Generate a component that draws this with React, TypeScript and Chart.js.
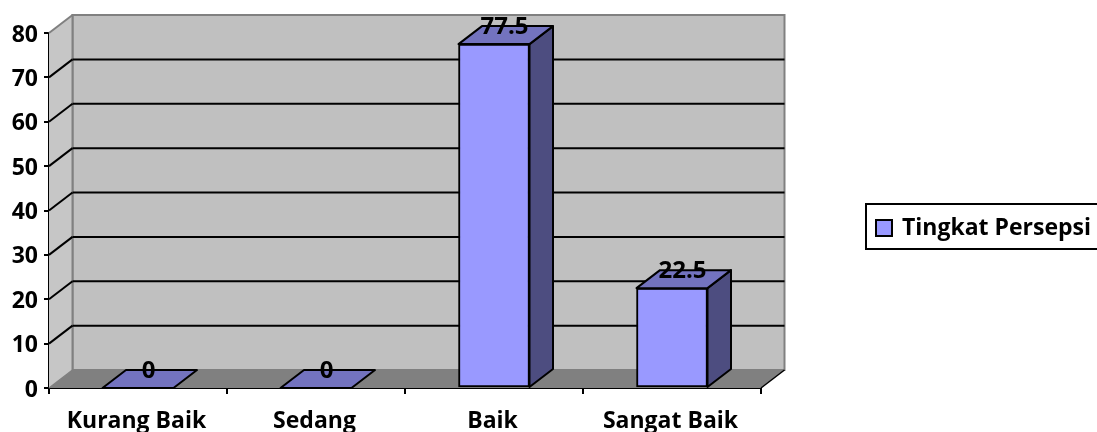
import React, { useEffect, useRef } from "react";
import { Chart, registerables } from "chart.js";

Chart.register(...registerables);

const categories = ["Kurang Baik", "Sedang", "Baik", "Sangat Baik"];
const seriesName = "Tingkat Persepsi";
const values = [0, 0, 77.5, 22.5];
const valueLabels = ["0", "0", "77.5", "22.5"];

const FONT = "'Open Sans', sans-serif";
const DX = 23.5;
const DY = -18;

function poly(ctx: CanvasRenderingContext2D, pts: number[][], fill: string | null, stroke: string | null, lw = 2) {
  ctx.beginPath();
  pts.forEach((p, i) => (i ? ctx.lineTo(p[0], p[1]) : ctx.moveTo(p[0], p[1])));
  ctx.closePath();
  if (fill) { ctx.fillStyle = fill; ctx.fill(); }
  if (stroke) { ctx.strokeStyle = stroke; ctx.lineWidth = lw; ctx.stroke(); }
}

function line(ctx: CanvasRenderingContext2D, x1: number, y1: number, x2: number, y2: number, c: string, lw = 2) {
  ctx.beginPath();
  ctx.moveTo(x1, y1);
  ctx.lineTo(x2, y2);
  ctx.strokeStyle = c;
  ctx.lineWidth = lw;
  ctx.stroke();
}

const walls = {
  id: "walls",
  beforeDatasetsDraw(chart: any) {
    const { ctx, chartArea: a, scales } = chart;
    const l = a.left, r = a.right, t = a.top, b = a.bottom;
    ctx.save();
    poly(ctx, [[l + DX, t + DY], [r + DX, t + DY], [r + DX, b + DY], [l + DX, b + DY]], "#C0C0C0", "#808080");
    poly(ctx, [[l, t], [l + DX, t + DY], [l + DX, b + DY], [l, b]], "#C6C6C6", null);
    poly(ctx, [[l, b], [r, b], [r + DX, b + DY], [l + DX, b + DY]], "#808080", null);
    line(ctx, l, t, l + DX, t + DY, "#808080");
    line(ctx, l + DX, t + DY, l + DX, b + DY, "#808080");
    line(ctx, r, b, r + DX, b + DY, "#000000", 1.5);
    line(ctx, l, b, l + DX, b + DY, "#808080", 1.5);
    scales.y.ticks.forEach((tk: any) => {
      const y = scales.y.getPixelForValue(tk.value);
      if (tk.value > 0 && tk.value < 80) {
        line(ctx, l, y, l + DX, y + DY, "#000000");
        line(ctx, l + DX, y + DY, r + DX, y + DY, "#000000");
      }
    });
    ctx.restore();
  },
};

const bars3d = {
  id: "bars3d",
  afterDatasetsDraw(chart: any) {
    const { ctx } = chart;
    const meta = chart.getDatasetMeta(0);
    ctx.save();
    meta.data.forEach((el: any) => {
      const half = el.width / 2;
      const x0 = el.x - half, x1 = el.x + half, top = el.y, base = el.base;
      ctx.lineJoin = "round";
      if (base - top > 0.5) {
        poly(ctx, [[x1, top], [x1 + DX, top + DY], [x1 + DX, base + DY], [x1, base]], "#4D4D80", "#000000");
      }
      poly(ctx, [[x0, top], [x1, top], [x1 + DX, top + DY], [x0 + DX, top + DY]], "#7373BF", "#000000");
    });
    meta.data.forEach((el: any, i: number) => {
      ctx.fillStyle = "#000000";
      ctx.font = `bold 24px ${FONT}`;
      ctx.textAlign = "center";
      ctx.textBaseline = "middle";
      ctx.fillText(valueLabels[i], el.x + 10.5, el.y - 17);
    });
    ctx.restore();
  },
};

const legendBox = {
  id: "legendBox",
  afterDraw(chart: any) {
    const { ctx } = chart;
    ctx.save();
    ctx.fillStyle = "#FFFFFF";
    ctx.strokeStyle = "#000000";
    ctx.lineWidth = 2;
    ctx.beginPath();
    ctx.moveTo(1097, 204);
    ctx.lineTo(866, 204);
    ctx.lineTo(866, 249);
    ctx.lineTo(1097, 249);
    ctx.fill();
    ctx.stroke();
    ctx.fillStyle = "#9999FF";
    ctx.fillRect(876, 220, 16, 16);
    ctx.strokeRect(876, 220, 16, 16);
    ctx.fillStyle = "#000000";
    ctx.font = `bold 23px ${FONT}`;
    ctx.textAlign = "left";
    ctx.textBaseline = "middle";
    ctx.fillText(chart.data.datasets[0].label, 902, 228);
    ctx.restore();
  },
};

export default function App() {
  const ref = useRef<HTMLCanvasElement>(null);
  useEffect(() => {
    const chart = new Chart(ref.current!, {
      type: "bar",
      data: {
        labels: categories,
        datasets: [
          {
            label: seriesName,
            data: values,
            backgroundColor: "#9999FF",
            borderColor: "#000000",
            borderWidth: 2,
            borderSkipped: false,
            barThickness: 71,
          },
        ],
      },
      options: {
        responsive: false,
        animation: false,
        devicePixelRatio: 1,
        layout: { padding: { top: 33, right: 336, left: 0, bottom: 0 } },
        plugins: { legend: { display: false }, tooltip: { enabled: false } },
        scales: {
          x: {
            afterFit: (s: any) => { s.height = 44; },
            grid: { drawOnChartArea: false, color: "#000000", lineWidth: 2, tickLength: 6, offset: true },
            border: { color: "#000000", width: 2 },
            ticks: { color: "#000000", font: { family: FONT, weight: "bold", size: 23 }, padding: 14, maxRotation: 0, labelOffset: -1.5 },
          },
          y: {
            min: 0,
            max: 80,
            afterFit: (s: any) => { s.width = 49; },
            grid: { drawOnChartArea: false, color: "#000000", lineWidth: 2, tickLength: 5 },
            border: { color: "#000000", width: 2 },
            ticks: { stepSize: 10, color: "#000000", font: { family: FONT, weight: "bold", size: 23 }, padding: 6, labelOffset: 2 },
          },
        },
      },
      plugins: [walls, bars3d, legendBox],
    } as any);
    return () => chart.destroy();
  }, []);
  return <canvas ref={ref} width={1097} height={432} style={{ position: "fixed", left: 0, top: 0, display: "block" }} />;
}
